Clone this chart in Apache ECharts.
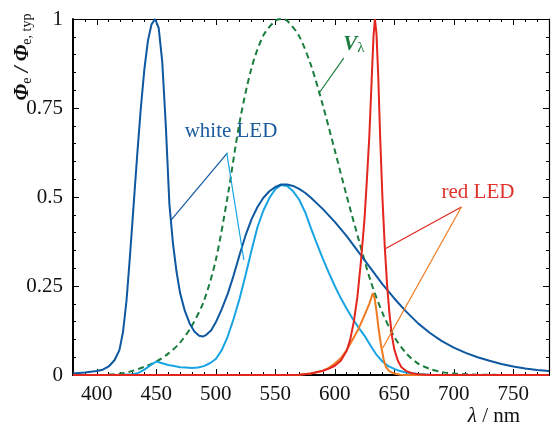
<!DOCTYPE html>
<html>
<head>
<meta charset="UTF-8" />
<title>LED spectra</title>
<script src="https://cdn.jsdelivr.net/npm/echarts@6/dist/echarts.min.js"></script>
<style>
html,body{margin:0;padding:0;background:#fff;}
#main{width:552px;height:427px;}
</style>
</head>
<body>
<div id="main"></div>
<script>
// white LED, blue pump (dark blue curve)
var whiteAWl  = [380,390,400,405,410,415,419,422,425,428,431,434,437,440,443,446,449,452,455,458,461,464,467,470,474,478,482,486,489,492,496,500,505,510,515,520,525,530,535,540,545,550,555,560,565,570,575,580,590,600,610,620,630,640,650,660,670,680,690,700,710,720,730,740,750,760,770,780];
var whiteAVal = [0.004,0.007,0.011,0.015,0.024,0.042,0.07,0.12,0.21,0.34,0.48,0.62,0.75,0.86,0.94,0.985,1.0,0.975,0.88,0.7,0.48,0.37,0.29,0.23,0.18,0.145,0.122,0.11,0.108,0.113,0.125,0.148,0.185,0.228,0.28,0.338,0.392,0.437,0.472,0.498,0.516,0.528,0.535,0.535,0.531,0.523,0.512,0.498,0.466,0.43,0.39,0.345,0.3,0.255,0.215,0.178,0.145,0.118,0.095,0.077,0.062,0.05,0.04,0.031,0.024,0.018,0.014,0.011];

// white LED, second spectrum (light blue curve)
var whiteBWl  = [380,420,430,435,440,445,450,455,460,465,470,475,480,485,490,495,500,505,510,515,520,525,530,535,540,545,550,555,560,565,570,575,580,585,590,595,600,605,610,615,620,625,630,635,640,645,650,655,660,670,680,700,780];
var whiteBVal = [0,0,0.002,0.006,0.015,0.027,0.038,0.033,0.028,0.025,0.022,0.021,0.02,0.021,0.025,0.033,0.045,0.07,0.108,0.158,0.215,0.28,0.35,0.415,0.462,0.497,0.522,0.534,0.531,0.516,0.493,0.458,0.412,0.368,0.326,0.287,0.25,0.216,0.186,0.158,0.133,0.11,0.083,0.057,0.038,0.025,0.017,0.011,0.007,0.003,0.001,0,0];

// V_lambda (green dashed)
var vlWl  = [410,420,430,440,450,460,470,480,490,500,510,520,530,540,550,555,560,570,580,590,600,610,620,630,640,650,660,670,680,690,700,710,720,730,740,750];
var vlVal = [0.0012,0.004,0.0116,0.023,0.038,0.06,0.091,0.139,0.208,0.323,0.503,0.71,0.862,0.954,0.995,1.0,0.995,0.952,0.87,0.757,0.631,0.503,0.381,0.265,0.175,0.107,0.061,0.032,0.017,0.0082,0.0041,0.0021,0.00105,0.00052,0.00025,0.00012];

// red LED (red curve)
var redWl  = [380,560,570,580,590,595,600,605,610,613,616,619,622,625,627,629,631,632.5,633.7,635,636.5,638,640,642,644,646,648,650,653,656,660,665,670,680,780];
var redVal = [0,0,0.001,0.004,0.012,0.018,0.026,0.04,0.068,0.1,0.15,0.22,0.32,0.44,0.55,0.67,0.83,0.95,1.0,0.96,0.84,0.68,0.5,0.36,0.25,0.17,0.11,0.072,0.04,0.022,0.011,0.005,0.002,0,0];

// red LED, second spectrum (orange curve)
var orangeWl  = [380,560,570,580,590,595,600,605,610,615,620,625,629,632,633.5,635,637,639,641,643,646,650,655,660,780];
var orangeVal = [0,0,0.001,0.004,0.012,0.02,0.032,0.047,0.07,0.1,0.13,0.168,0.2,0.23,0.215,0.18,0.125,0.08,0.045,0.022,0.01,0.004,0.001,0,0];

// callout lines, [nm, value] end points
var calloutWhiteA = [[509.8,0.624],[462.4,0.435]];
var calloutWhiteB = [[509.2,0.624],[523.6,0.323]];
var calloutRed    = [[706.4,0.472],[642.0,0.354]];
var calloutOrange = [[706.4,0.472],[640.3,0.076]];
var calloutVl     = [[607.5,0.89],[586.4,0.79]];

var serif = "'Liberation Serif','DejaVu Serif',serif";

function pairs(xs, ys) {
  var out = [];
  for (var i = 0; i < xs.length; i++) out.push([xs[i], ys[i]]);
  return out;
}

function curve(data, color, dashed) {
  return {
    type: 'line', data: data, showSymbol: false, symbol: 'none', silent: true,
    smooth: dashed ? 0.3 : false,
    lineStyle: { color: color, width: 2, type: dashed ? [6, 4] : 'solid' }
  };
}
function callout(data, color) {
  return {
    type: 'line', data: data, showSymbol: false, symbol: 'none', silent: true,
    lineStyle: { color: color, width: 1.2 }, z: 3
  };
}

var tickStyle = { color: '#000', width: 1 };

var chart = echarts.init(document.getElementById('main'));
chart.setOption({
  animation: false,
  grid: { left: 73, top: 19, width: 483, height: 356 },
  xAxis: [{
    type: 'value', min: 380, max: 780, splitNumber: 8, position: 'bottom',
    axisLine: { onZero: false, lineStyle: { color: '#000', width: 2 } },
    axisTick: { inside: true, length: 6, lineStyle: tickStyle },
    minorTick: { show: true, splitNumber: 5, length: 3, lineStyle: tickStyle },
    splitLine: { show: false },
    axisLabel: {
      margin: 9, fontFamily: serif, fontSize: 21, color: '#111',
      formatter: function (v) { return v % 50 === 0 ? String(v) : ''; }
    }
  }, {
    type: 'value', min: 380, max: 780, splitNumber: 8, position: 'top',
    axisLine: { onZero: false, lineStyle: { color: '#000', width: 1.2 } },
    axisTick: { inside: true, length: 6, lineStyle: tickStyle },
    minorTick: { show: true, splitNumber: 5, length: 3, lineStyle: tickStyle },
    splitLine: { show: false },
    axisLabel: { show: false }
  }],
  yAxis: [{
    type: 'value', min: 0, max: 1, interval: 0.25, position: 'left',
    axisLine: { show: true, onZero: false, lineStyle: { color: '#000', width: 2 } },
    axisTick: { show: true, inside: true, length: 6, lineStyle: tickStyle },
    minorTick: { show: true, splitNumber: 5, length: 3, lineStyle: tickStyle },
    splitLine: { show: false },
    axisLabel: { margin: 10, fontFamily: serif, fontSize: 21, color: '#111' }
  }, {
    type: 'value', min: 0, max: 1, interval: 0.25, position: 'right',
    axisLine: { show: true, onZero: false, lineStyle: { color: '#000', width: 1.2 } },
    axisTick: { show: true, inside: true, length: 6, lineStyle: tickStyle },
    minorTick: { show: true, splitNumber: 5, length: 3, lineStyle: tickStyle },
    splitLine: { show: false },
    axisLabel: { show: false }
  }],
  series: [
    curve(pairs(vlWl, vlVal), '#1a7d3e', true),
    curve(pairs(whiteBWl, whiteBVal), '#18a4e3', false),
    curve(pairs(whiteAWl, whiteAVal), '#0d58a0', false),
    curve(pairs(orangeWl, orangeVal), '#f07a22', false),
    curve(pairs(redWl, redVal), '#e2261d', false),
    callout(calloutWhiteA, '#0d58a0'),
    callout(calloutWhiteB, '#18a4e3'),
    callout(calloutRed, '#e2261d'),
    callout(calloutOrange, '#f07a22'),
    callout(calloutVl, '#1a7d3e')
  ],
  graphic: [
    {
      type: 'text', x: 23, y: 57, rotation: Math.PI / 2,
      style: {
        text: '{p|Φ}{s|e}{p| / Φ}{s|e, typ}',
        align: 'center', verticalAlign: 'middle',
        rich: {
          p: { fontFamily: serif, fontSize: 21, fontStyle: 'italic', fontWeight: 'bold', fill: '#111', lineHeight: 22 },
          s: { fontFamily: serif, fontSize: 14, fill: '#111', lineHeight: 10, verticalAlign: 'bottom' }
        }
      }
    },
    {
      type: 'text', x: 494, y: 416,
      style: {
        text: '{i|λ}{n| / nm}', align: 'center', verticalAlign: 'middle',
        rich: {
          i: { fontFamily: serif, fontSize: 21, fontStyle: 'italic', fill: '#111' },
          n: { fontFamily: serif, fontSize: 21, fill: '#111' }
        }
      }
    },
    {
      type: 'text', x: 354, y: 45,
      style: {
        text: '{v|V}{s|λ}', align: 'center', verticalAlign: 'middle',
        rich: {
          v: { fontFamily: serif, fontSize: 21, fontStyle: 'italic', fontWeight: 'bold', fill: '#1a7d3e', lineHeight: 22 },
          s: { fontFamily: serif, fontSize: 15, fill: '#1a7d3e', lineHeight: 10, verticalAlign: 'bottom' }
        }
      }
    },
    {
      type: 'text', x: 231, y: 131,
      style: { text: 'white LED', align: 'center', verticalAlign: 'middle', font: '21px ' + serif, fill: '#1a5b9e' }
    },
    {
      type: 'text', x: 478, y: 192,
      style: { text: 'red LED', align: 'center', verticalAlign: 'middle', font: '21px ' + serif, fill: '#e0302a' }
    }
  ]
});
</script>
</body>
</html>
